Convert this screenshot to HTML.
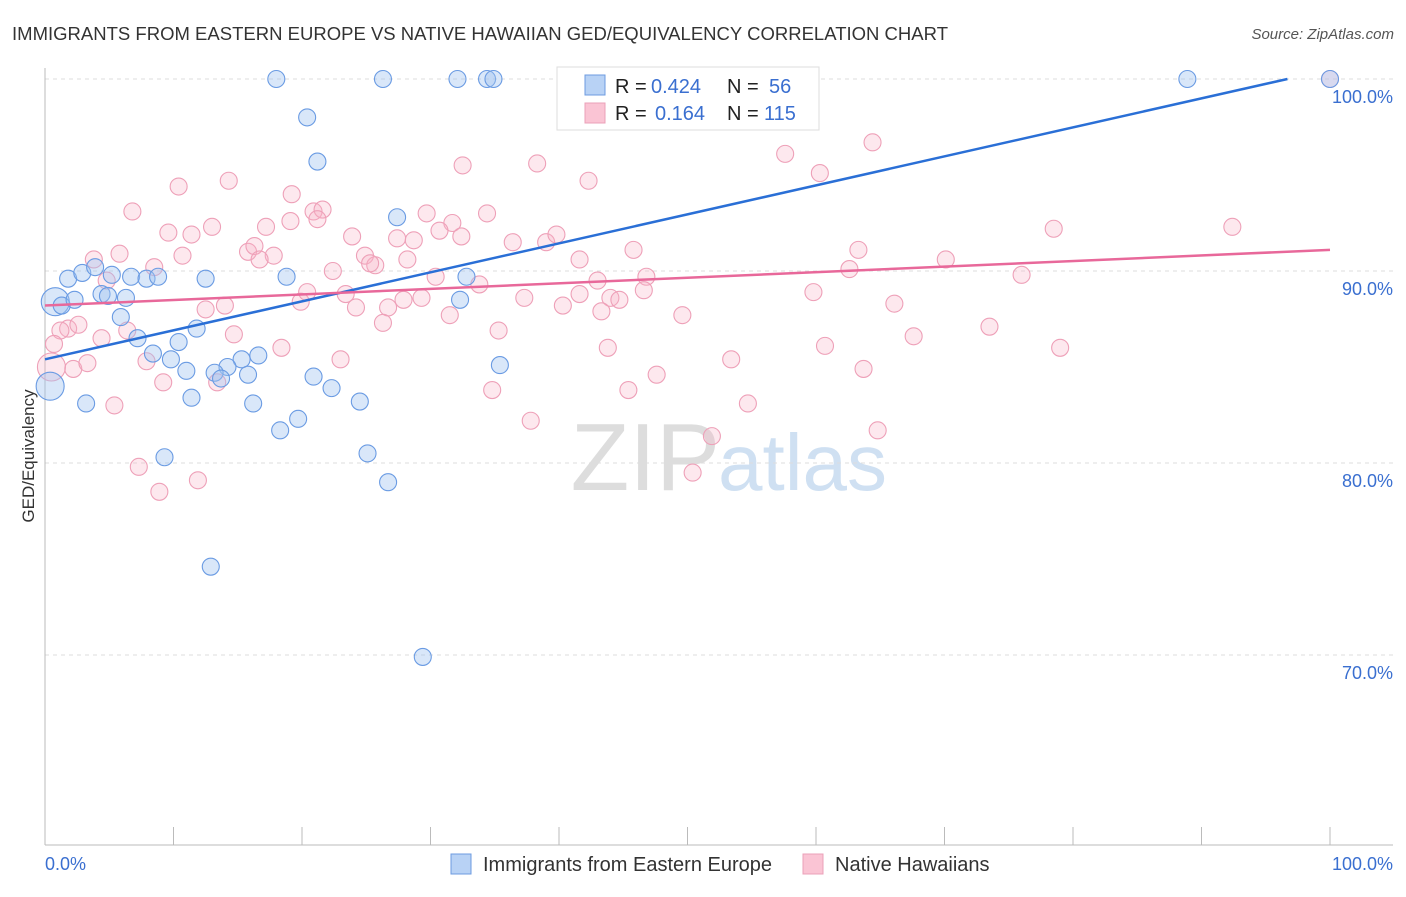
<!DOCTYPE html>
<html><head><meta charset="utf-8"><style>
body{margin:0;background:#fff;font-family:"Liberation Sans",sans-serif;}
svg text{font-family:"Liberation Sans",sans-serif;}
</style></head><body>
<svg id="c" width="1406" height="892">
<text x="12" y="40" font-size="18.5" fill="#333" textLength="936">IMMIGRANTS FROM EASTERN EUROPE VS NATIVE HAWAIIAN GED/EQUIVALENCY CORRELATION CHART</text>
<text x="1394" y="39" font-size="15" fill="#555" text-anchor="end" font-style="italic">Source: ZipAtlas.com</text>
<text x="720" y="490" font-size="96" fill="#ddd" text-anchor="end" font-family="Liberation Serif">ZIP</text>
<text x="718" y="490" font-size="80" fill="#cfe0f2">atlas</text>
<text transform="translate(34,456) rotate(-90)" font-size="17" fill="#333" text-anchor="middle">GED/Equivalency</text>
<g id="grid"></g><g id="pts"></g><g id="lines"></g>
<g>
<rect x="557" y="67" width="262" height="63" fill="#fff" stroke="#ddd"/>
<rect x="585" y="75" width="20" height="20" fill="#b8d2f5" stroke="#6d9be0"/>
<rect x="585" y="103" width="20" height="20" fill="#fac4d4" stroke="#eba0b8"/>
<text x="615" y="93" font-size="20" fill="#222">R =</text>
<text x="651" y="93" font-size="20" fill="#3a6fd0">0.424</text>
<text x="727" y="93" font-size="20" fill="#222">N =</text>
<text x="769" y="93" font-size="20" fill="#3a6fd0">56</text>
<text x="615" y="120" font-size="20" fill="#222">R =</text>
<text x="655" y="120" font-size="20" fill="#3a6fd0">0.164</text>
<text x="727" y="120" font-size="20" fill="#222">N =</text>
<text x="764" y="120" font-size="20" fill="#3a6fd0">115</text>
</g>
<g>
<rect x="451" y="854" width="20" height="20" fill="#b8d2f5" stroke="#6d9be0"/>
<text x="483" y="871" font-size="20" fill="#333">Immigrants from Eastern Europe</text>
<rect x="803" y="854" width="20" height="20" fill="#fac4d4" stroke="#eba0b8"/>
<text x="835" y="871" font-size="20" fill="#333">Native Hawaiians</text>
</g>
<text x="45" y="870" font-size="18" fill="#3a6fd0">0.0%</text>
<text x="1393" y="870" font-size="18" fill="#3a6fd0" text-anchor="end">100.0%</text>
</svg>
<script>
const blueX=[18.0,26.3,32.1,34.4,34.9,88.9,100,20.4,21.2,27.4,1.8,2.9,3.9,5.2,6.7,7.9,8.8,12.5,18.8,32.8,4.4,4.9,6.3,0.8,1.3,2.3,32.3,5.9,7.2,11.8,10.4,8.4,9.8,11.0,15.3,16.6,14.2,13.2,13.7,15.8,35.4,20.9,22.3,11.4,24.5,3.2,16.2,19.7,18.3,25.1,9.3,26.7,12.9,29.4,0.4];
const blueY=[100,100,100,100,100,100,100,98.0,95.7,92.8,89.6,89.9,90.2,89.8,89.7,89.6,89.7,89.6,89.7,89.7,88.8,88.7,88.6,88.4,88.2,88.5,88.5,87.6,86.5,87.0,86.3,85.7,85.4,84.8,85.4,85.6,85.0,84.7,84.4,84.6,85.1,84.5,83.9,83.4,83.2,83.1,83.1,82.3,81.7,80.5,80.3,79.0,74.6,69.9,84.0];
const pinkX=[100,59.3,64.4,57.6,38.3,32.5,60.3,42.3,10.4,14.3,19.2,6.8,20.9,21.6,21.2,29.7,34.4,17.2,13.0,19.1,31.7,9.6,11.4,23.9,27.4,28.7,30.7,32.4,36.4,39.0,39.8,92.4,78.5,63.3,5.8,3.8,15.8,16.3,17.8,16.7,10.7,24.9,25.7,25.3,22.4,28.2,45.8,41.6,62.6,70.1,76.0,30.4,43.0,46.8,46.6,8.5,4.8,33.8,41.6,37.3,19.9,20.4,23.4,24.2,26.7,27.9,29.3,44.0,44.7,40.3,43.3,31.5,66.1,59.8,12.5,14.0,49.6,26.3,35.3,1.8,1.2,2.6,4.4,6.4,14.7,0.7,67.6,73.5,79.0,43.8,60.7,7.9,2.2,3.3,23.0,53.4,0.5,9.2,13.4,63.7,47.6,34.8,45.4,54.7,5.4,37.8,64.8,51.9,7.3,50.4,8.9,11.9,18.4];
const pinkY=[100,100,96.7,96.1,95.6,95.5,95.1,94.7,94.4,94.7,94.0,93.1,93.1,93.2,92.7,93.0,93.0,92.3,92.3,92.6,92.5,92.0,91.9,91.8,91.7,91.6,92.1,91.8,91.5,91.5,91.9,92.3,92.2,91.1,90.9,90.6,91.0,91.3,90.8,90.6,90.8,90.8,90.3,90.4,90.0,90.6,91.1,90.6,90.1,90.6,89.8,89.7,89.5,89.7,89.0,90.2,89.5,89.3,88.8,88.6,88.4,88.9,88.8,88.1,88.1,88.5,88.6,88.6,88.5,88.2,87.9,87.7,88.3,88.9,88.0,88.2,87.7,87.3,86.9,87.0,86.9,87.2,86.5,86.9,86.7,86.2,86.6,87.1,86.0,86.0,86.1,85.3,84.9,85.2,85.4,85.4,85.0,84.2,84.2,84.9,84.6,83.8,83.8,83.1,83.0,82.2,81.7,81.4,79.8,79.5,78.5,79.1,86.0];
const bigBlue=[23,54], bigPink=[96];
const blueTrend=[85.4,100.5], pinkTrend=[88.2,91.1];
const yTicks=[100,90,80,70], yTickLabels=["100.0%","90.0%","80.0%","70.0%"];
const xTicks=[0,10,20,30,40,50,60,70,80,90,100];
const NS="http://www.w3.org/2000/svg";
const sx=v=>45+v*12.85, sy=v=>79+(100-v)*19.2;
function mk(tag,attrs,parent){const e=document.createElementNS(NS,tag);for(const k in attrs)e.setAttribute(k,attrs[k]);parent.appendChild(e);return e;}
const grid=document.getElementById('grid');
yTicks.forEach((t,i)=>{
 const l=mk('line',{x1:45,x2:1393,y1:sy(t),y2:sy(t),stroke:'#ddd','stroke-dasharray':'4,4'},grid);
 
 
 const tx=mk('text',{x:1393,y:sy(t)+24,'font-size':18,fill:'#3a6fd0','text-anchor':'end'},grid);
 tx.textContent=yTickLabels[i];
 
 
});
const ax=mk('line',{x1:45,x2:45,y1:68,y2:845,stroke:'#bbb'},grid);


const bx=mk('line',{x1:45,x2:1393,y1:845,y2:845,stroke:'#bbb'},grid);


xTicks.forEach(t=>{const l=mk('line',{x1:sx(t),x2:sx(t),y1:827,y2:845,stroke:'#bbb'},grid);
 
 });
const pts=document.getElementById('pts');
pinkX.forEach((x,i)=>{const c=mk('circle',{cx:sx(x),cy:sy(pinkY[i]),r:bigPink.includes(i)?14:8.5,fill:'rgba(248,180,200,0.3)',stroke:'#eea0b8','stroke-width':1.1},pts);
 
 });
blueX.forEach((x,i)=>{const c=mk('circle',{cx:sx(x),cy:sy(blueY[i]),r:bigBlue.includes(i)?14:8.5,fill:'rgba(160,196,240,0.4)',stroke:'#6a9be3','stroke-width':1.1},pts);
 
 });
const lines=document.getElementById('lines');
const bEnd=(100-blueTrend[0])/(blueTrend[1]-blueTrend[0])*100;
const bl=mk('line',{x1:sx(0),y1:sy(blueTrend[0]),x2:sx(bEnd),y2:sy(100),stroke:'#2a6fd6','stroke-width':2.5},lines);


const pl=mk('line',{x1:sx(0),y1:sy(pinkTrend[0]),x2:sx(100),y2:sy(pinkTrend[1]),stroke:'#e8689a','stroke-width':2.5},lines);


</script>
</body></html>
